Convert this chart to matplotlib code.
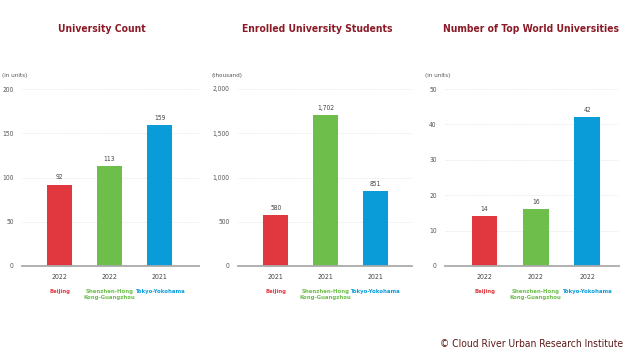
import matplotlib.pyplot as plt

plt.rcParams['font.family'] = ['DejaVu Sans']
plt.rcParams['font.stretch'] = 'condensed'

cities = ["Beijing", "Shenzhen-Hong\nKong-Guangzhou", "Tokyo-Yokohama"]
city_colors = ["#E0383E", "#6DBE4B", "#0A9BD9"]

titles = ["University Count", "Enrolled University Students",
          "Number of Top World Universities"]
units = ["(in units)", "(thousand)", "(in units)"]

uni_count = [92, 113, 159]
uni_years = ["2022", "2022", "2021"]

students = [580, 1702, 851]
student_years = ["2021", "2021", "2021"]

top_unis = [14, 16, 42]
top_years = ["2022", "2022", "2022"]

values = [uni_count, students, top_unis]
years = [uni_years, student_years, top_years]
ticks = [[0, 50, 100, 150, 200], [0, 500, 1000, 1500, 2000], [0, 10, 20, 30, 40, 50]]
W, H = 633, 356

# axes boxes in pixels: left, right, and xlim
boxes = [(22, 199, -0.75, 2.79), (238, 412, -0.76, 2.74), (445, 619, -0.77, 2.62)]
title_x = [102, 317, 531]
units_x = [2, 212, 425]

fig = plt.figure(figsize=(W / 100, H / 100), dpi=100)
title_color = "#8B1A26"

for k in range(3):
    l, r, x0, x1 = boxes[k]
    ax = fig.add_axes([l / W, 1 - 266 / H, (r - l) / W, 177 / H])
    vals = values[k]
    ax.bar(range(3), vals, width=0.5, color=city_colors, zorder=3)
    ax.set_xlim(x0, x1)
    ax.set_ylim(0, ticks[k][-1])
    ax.set_yticks(ticks[k])
    ax.set_yticklabels([f"{t:,}" for t in ticks[k]], fontsize=4.8, color="#555555")
    ax.tick_params(axis='y', length=0, pad=6)
    ax.set_xticks(range(3))
    ax.set_xticklabels(years[k], fontsize=5, color="#444444")
    ax.tick_params(axis='x', length=0, pad=5.5)
    for s in ["top", "right", "left"]:
        ax.spines[s].set_visible(False)
    ax.spines["bottom"].set_color("#aaaaaa")
    ax.spines["bottom"].set_linewidth(1.3)
    ax.spines["bottom"].set_zorder(4)
    for t in ticks[k][1:]:
        ax.axhline(t, color="#e4e4e4", lw=0.6, ls=(0, (1, 1)), zorder=1)
    for i, v in enumerate(vals):
        ax.annotate(f"{v:,}", (i, v), xytext=(0, 3), textcoords="offset points",
                    ha="center", va="bottom", fontsize=4.8, color="#444444")
        ax.annotate(cities[i], (i, 0), xytext=(0, -16.5), textcoords="offset points",
                    ha="center", va="top", fontsize=4.2, fontweight="bold",
                    color=city_colors[i], linespacing=1.15)
    fig.text(units_x[k] / W, 1 - 75 / H, units[k], fontsize=4.5, color="#555555",
             ha="left", va="center")
    fig.text(title_x[k] / W, 1 - 29 / H, titles[k], ha="center", va="center",
             fontsize=7.4, fontweight="bold", color=title_color)

fig.text(623 / W, 1 - 344 / H, "\u00a9 Cloud River Urban Research Institute",
         ha="right", va="center", fontsize=7.4, color="#5C1A1A")

fig.savefig("out.png", dpi=100)
